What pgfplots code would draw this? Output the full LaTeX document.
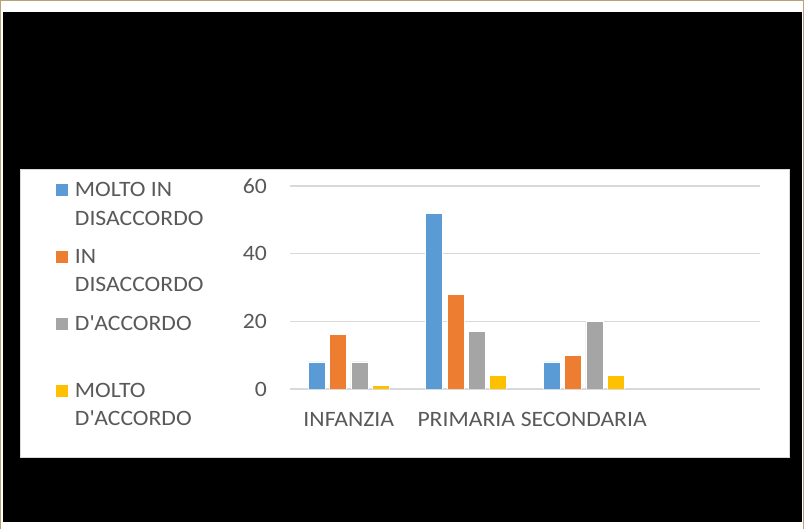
\documentclass[border=0pt]{standalone}
\usepackage{pgfplots}
\pgfplotsset{compat=1.18}
\usepackage{fontspec}
\setmainfont{Carlito}[FakeStretch=1.08]
\definecolor{cblue}{HTML}{5B9BD5}
\definecolor{corange}{HTML}{ED7D31}
\definecolor{cgray}{HTML}{A5A5A5}
\definecolor{cyellow}{HTML}{FFC000}
\definecolor{gridgray}{HTML}{D9D9D9}
\definecolor{textgray}{HTML}{595959}
\definecolor{frametan}{HTML}{B8A078}
\begin{document}
\begin{tikzpicture}[x=1bp,y=1bp]
\fill[white] (0,0) rectangle (809,529);
\fill[black] (3,7) rectangle (802,517);
\draw[frametan, line width=1.5bp] (0.75,0) -- (0.75,528.25) -- (803.5,528.25) -- (803.5,0);
\filldraw[fill=white, draw=gridgray, line width=1bp] (20,71) rectangle (789,359);
\begin{axis}[
  at={(290bp,140bp)}, anchor=south west,
  scale only axis, width=470bp, height=203bp,
  xmin=-0.5, xmax=3.5, ymin=0, ymax=60,
  ybar=4.3bp, bar width=17bp,
  xtick={0,1,2}, xticklabels={INFANZIA,PRIMARIA,SECONDARIA},
  ytick={0,20,40,60},
  ymajorgrids, major grid style={draw=gridgray, line width=1.5bp},
  axis line style={draw=none}, major tick length=0pt,
  tick label style={font=\fontsize{22}{26}\selectfont, color=textgray},
  x tick label style={anchor=base, yshift=-38bp, inner sep=0pt},
  y tick label style={anchor=east, xshift=-23bp, inner sep=0pt},
  /pgf/number format/assume math mode=true,
  legend image code/.code={\fill[#1] (0bp,0bp) rectangle (13bp,13bp);},
  legend style={draw=none, fill=none, inner sep=0pt, at={(-0.5,1.0458)}, anchor=north west,
    row sep=45.4bp, column sep=6bp, font=\fontsize{22}{28.5}\selectfont, text=textgray,
    cells={anchor=base west}, nodes={inner sep=0pt}},
]
\addplot[fill=cblue, draw=white, line width=0.75bp] coordinates {(0,8) (1,52) (2,8)};
\addlegendentry{\begin{tabular}[t]{@{}l@{}}MOLTO IN\\DISACCORDO\end{tabular}}
\addplot[fill=corange, draw=white, line width=0.75bp] coordinates {(0,16) (1,28) (2,10)};
\addlegendentry{\begin{tabular}[t]{@{}l@{}}IN\\DISACCORDO\end{tabular}}
\addplot[fill=cgray, draw=white, line width=0.75bp] coordinates {(0,8) (1,17) (2,20)};
\addlegendentry{\begin{tabular}[t]{@{}l@{}}D\textquotesingle ACCORDO\\ \end{tabular}}
\addplot[fill=cyellow, draw=white, line width=0.75bp] coordinates {(0,1) (1,4) (2,4)};
\addlegendentry{\begin{tabular}[t]{@{}l@{}}MOLTO\\D\textquotesingle ACCORDO\end{tabular}}
\end{axis}
\end{tikzpicture}
\end{document}
